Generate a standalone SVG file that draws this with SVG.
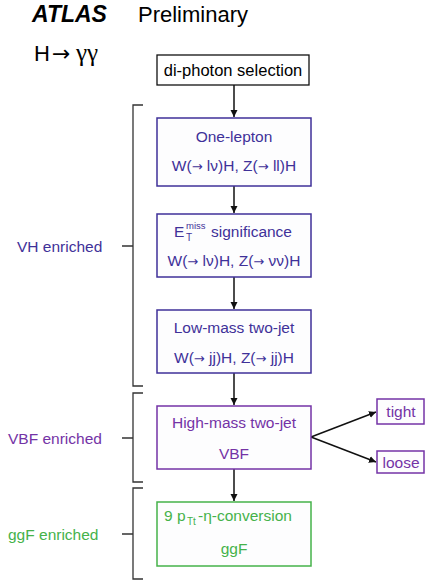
<svg xmlns="http://www.w3.org/2000/svg" width="426" height="580" viewBox="0 0 426 580">
<defs>
<style>
text{font-family:"Liberation Sans",Arial,sans-serif}
.ar{font-family:"DejaVu Sans",sans-serif}
.box{fill:#fdfdfe;stroke-width:1.5}
.vh{stroke:#3f3199}
.vbf{stroke:#7433a6}
.ggf{stroke:#45b24a}
.tvh{fill:#3f3199;font-size:15.5px;text-anchor:middle}
.tvbf{fill:#7433a6;font-size:15.5px;text-anchor:middle}
.tggf{fill:#45b24a;font-size:15.5px;text-anchor:middle}
.st{text-anchor:start}
.conn{stroke:#111;stroke-width:1.5;fill:none}
.br{stroke:#333;stroke-width:1.3;fill:none}
.lab{font-size:15.5px}
</style>
<marker id="ah" markerWidth="8" markerHeight="8" refX="7" refY="4" orient="auto" markerUnits="userSpaceOnUse">
<path d="M0,0.5 L7,4 L0,7.5 z" fill="#111"/>
</marker>
</defs>
<rect width="426" height="580" fill="#fff"/>
<g id="title">
<text x="32" y="22" font-size="23" font-weight="bold" font-style="italic">ATLAS</text>
<text x="138" y="22" font-size="22">Preliminary</text>
<text x="34" y="61" font-size="22">H<tspan class="ar" x="52" font-size="22" dy="0">→</tspan><tspan x="76" font-family="Liberation Serif,serif" font-size="25">γγ</tspan></text>
</g>
<g id="connectors">
<line class="conn" x1="234" y1="85" x2="234" y2="117" marker-end="url(#ah)"/>
<line class="conn" x1="234" y1="186" x2="234" y2="213" marker-end="url(#ah)"/>
<line class="conn" x1="234" y1="277" x2="234" y2="309" marker-end="url(#ah)"/>
<line class="conn" x1="234" y1="373" x2="234" y2="405" marker-end="url(#ah)"/>
<line class="conn" x1="234" y1="469" x2="234" y2="501" marker-end="url(#ah)"/>
<line class="conn" x1="311" y1="437" x2="376" y2="412" marker-end="url(#ah)"/>
<line class="conn" x1="311" y1="437" x2="376" y2="462" marker-end="url(#ah)"/>
</g>
<g id="brackets">
<path class="br" d="M143,105 H133 V386 H143 M122,246 H133"/>
<path class="br" d="M143,393 H133 V482 H143 M122,438 H133"/>
<path class="br" d="M143,488 H133 V579 H143 M122,534 H133"/>
</g>
<g id="vh-label"><text class="lab" x="17" y="252" fill="#3f3199">VH enriched</text></g>
<g id="vbf-label"><text class="lab" x="8" y="444" fill="#7433a6">VBF enriched</text></g>
<g id="ggf-label"><text class="lab" x="8" y="540" fill="#45b24a">ggF enriched</text></g>
<g id="diphoton">
<rect x="157" y="55" width="152" height="30" fill="#fff" stroke="#111" stroke-width="1.3"/>
<text x="233" y="76" font-size="16.5" text-anchor="middle">di-photon selection</text>
</g>
<g id="onelepton">
<rect class="box vh" x="157" y="118" width="154" height="68"/>
<text class="tvh" x="234" y="142">One-lepton</text>
<text class="tvh" x="234" y="171">W(<tspan class="ar" font-size="13">→</tspan> lν)H, Z(<tspan class="ar" font-size="13">→</tspan> ll)H</text>
</g>
<g id="etmiss">
<rect class="box vh" x="157" y="214" width="154" height="63"/>
<text class="tvh st" x="174" y="237">E<tspan x="186" font-size="9.5" dy="-8">miss</tspan><tspan x="186" font-size="10" dy="12">T</tspan><tspan x="211" dy="-4">significance</tspan></text>
<text class="tvh" x="234" y="266">W(<tspan class="ar" font-size="13">→</tspan> lν)H, Z(<tspan class="ar" font-size="13">→</tspan> νν)H</text>
</g>
<g id="lowmass">
<rect class="box vh" x="157" y="310" width="154" height="63"/>
<text class="tvh" x="234" y="333">Low-mass two-jet</text>
<text class="tvh" x="234" y="363">W(<tspan class="ar" font-size="13">→</tspan> jj)H, Z(<tspan class="ar" font-size="13">→</tspan> jj)H</text>
</g>
<g id="highmass">
<rect class="box vbf" x="157" y="406" width="154" height="63"/>
<text class="tvbf" x="234" y="428">High-mass two-jet</text>
<text class="tvbf" x="234" y="459">VBF</text>
</g>
<g id="tight">
<rect class="box vbf" x="377" y="399" width="47" height="25"/>
<text class="tvbf" x="401" y="417" font-size="14.5px">tight</text>
</g>
<g id="loose">
<rect class="box vbf" x="377" y="451" width="47" height="22"/>
<text class="tvbf" x="401" y="468" font-size="14.5px">loose</text>
</g>
<g id="ggf">
<rect class="box ggf" x="157" y="502" width="154" height="64"/>
<text class="tggf st" x="164" y="521">9 p<tspan x="187" font-size="10" dy="4">Tt</tspan><tspan x="198" dy="-4">-η-conversion</tspan></text>
<text class="tggf" x="234" y="554">ggF</text>
</g>
</svg>
